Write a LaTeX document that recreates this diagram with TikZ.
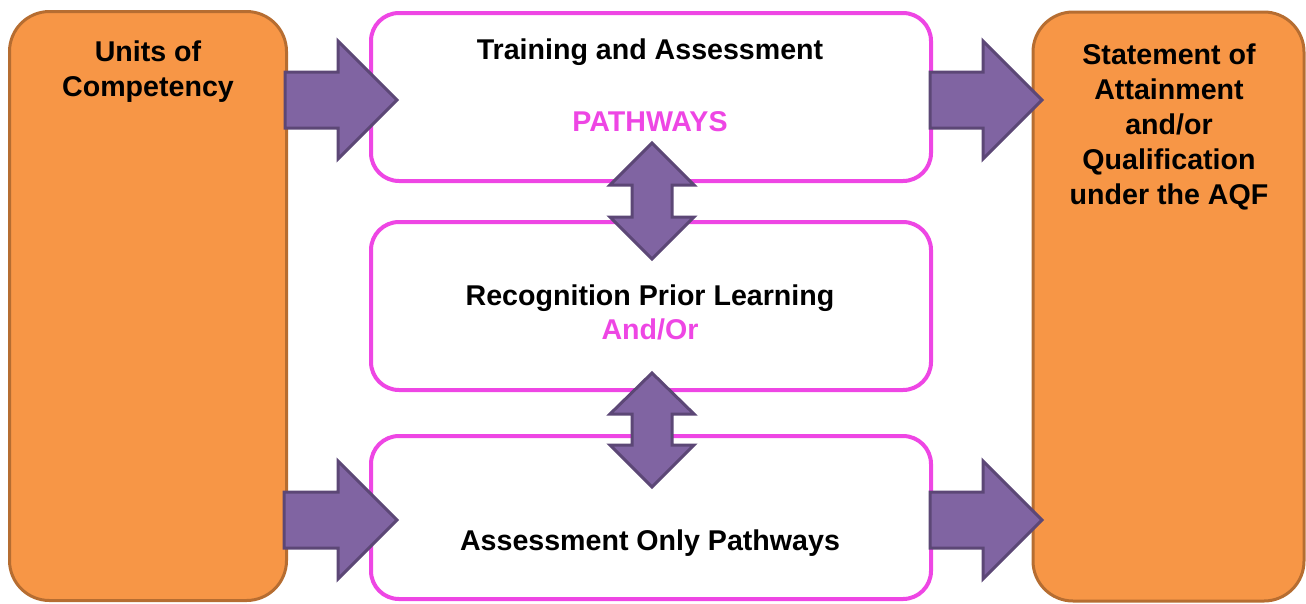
\documentclass[tikz,border=0pt]{standalone}
\usepackage{fontspec}
\setmainfont{Liberation Sans}
\definecolor{orfill}{HTML}{F79646}
\definecolor{ordraw}{HTML}{B66D31}
\definecolor{pufill}{HTML}{8064A2}
\definecolor{pudraw}{HTML}{5C4776}
\definecolor{mag}{HTML}{EE46E4}
\newcommand\rblockarrow[3]{% start x, tip x, y
  \draw[blockarr] (#1,#3-28) -- (#2-59,#3-28) -- (#2-59,#3-59) -- (#2,#3)
    -- (#2-59,#3+59) -- (#2-59,#3+28) -- (#1,#3+28) -- cycle;}
\newcommand\vdblarrow[5]{% x, top tip, upper head base, lower head base, bottom tip
  \draw[blockarr] (#1,#2) -- (#1+42,#3) -- (#1+20,#3) -- (#1+20,#4) -- (#1+42,#4)
    -- (#1,#5) -- (#1-42,#4) -- (#1-20,#4) -- (#1-20,#3) -- (#1-42,#3) -- cycle;}
\begin{document}
\begin{tikzpicture}[x=1pt,y=-1pt,
  orbox/.style={draw=ordraw,fill=orfill,line width=3pt,rounded corners=40pt,
    minimum width=#1,inner sep=0pt,minimum height=589pt},
  magbox/.style={draw=mag,fill=white,line width=4pt,rounded corners=28pt,
    minimum width=560pt,inner sep=0pt,minimum height=#1},
  blockarr/.style={draw=pudraw,fill=pufill,line width=3pt,line join=miter},
  lbl/.style={font=\bfseries\fontsize{28.6pt}{35pt}\selectfont,align=center,inner sep=0pt,text=black},
  mlbl/.style={lbl,text=mag}]
\useasboundingbox (0,0) rectangle (1306,603);
% boxes
\node[orbox=277pt] (U) at (148,306) {};
\node[orbox=271pt] (S) at (1168.5,306.5) {};
\node[magbox=168pt] (T) at (651,97) {};
\node[magbox=168pt] (R) at (651,306) {};
\node[magbox=163pt] (B) at (651,517.5) {};
% texts
\node[lbl,anchor=north] (Ut) at (148,41) {Units of\\Competency};
\node[lbl,anchor=north] (St) at (1169,44) {Statement of\\Attainment\\and/or\\Qualification\\under the AQF};
\node[lbl,anchor=north] (Tt) at (650,39) {Training and Assessment};
\node[mlbl,anchor=base] (Tp) at (650,131) {PATHWAYS};
\node[lbl,anchor=base] (Rt) at (650,305) {Recognition Prior Learning};
\node[mlbl,anchor=base] (Ro) at (650,339) {And/Or};
\node[lbl,anchor=base] (Bt) at (650,550) {Assessment Only Pathways};
% arrows
\rblockarrow{285}{397}{100}
\rblockarrow{930}{1042}{100}
\rblockarrow{284}{397}{520}
\rblockarrow{930}{1042}{520}
\vdblarrow{652}{143}{185}{217}{259}
\vdblarrow{652}{373}{414}{445}{487}
\end{tikzpicture}
\end{document}
